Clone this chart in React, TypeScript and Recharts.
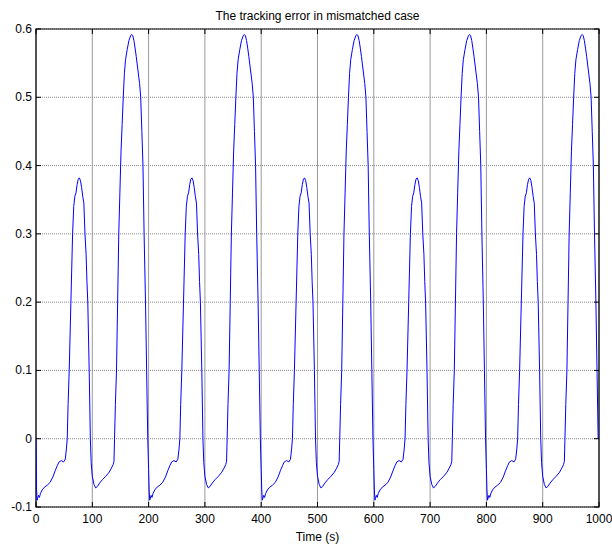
import React from 'react';
import { LineChart, Line, XAxis, YAxis, CartesianGrid, ReferenceArea } from 'recharts';

const FONT = '"Liberation Sans", Arial, Helvetica, sans-serif';
const TITLE = 'The tracking error in mismatched case';
const X_LABEL = 'Time (s)';

const xTicks = [0, 100, 200, 300, 400, 500, 600, 700, 800, 900, 1000];
const yTicks = [-0.1, 0, 0.1, 0.2, 0.3, 0.4, 0.5, 0.6];
const xDomain = [0, 1000];
const yDomain = [-0.1, 0.6];

// The signal repeats with a 200 s period; one period.
const periodStarts = [0, 200, 400, 600, 800];
const periodOffsets = [
  0, 1, 2, 3, 4.5, 6, 8, 11, 15, 20, 25, 30, 34, 38, 41, 45, 49, 52, 54, 55.5,
  57, 59, 62, 65, 67, 69, 71, 73, 75, 77, 79, 81, 83, 85, 87, 89, 90.5, 92, 94.5, 96.5,
  98, 100, 103, 106, 109, 113, 118, 124, 130, 134, 137, 138.5, 139.5, 141, 143, 145, 147, 149, 151, 153,
  155, 157, 159, 162, 165, 168, 170, 172, 174, 176, 178, 181, 184, 186, 188, 190, 192, 194.5, 196.5, 198.5,
];
const periodValues = [
  -0.045, -0.075, -0.09, -0.087, -0.083, -0.086, -0.08, -0.075, -0.071, -0.068, -0.064, -0.056, -0.047, -0.039, -0.034, -0.032, -0.034, -0.03, -0.015, 0.0,
  0.05, 0.1, 0.2, 0.3, 0.34, 0.355, 0.36, 0.372, 0.38, 0.382, 0.378, 0.368, 0.355, 0.345, 0.3, 0.27, 0.23, 0.2, 0.1, 0.0,
  -0.035, -0.055, -0.067, -0.072, -0.07, -0.065, -0.06, -0.055, -0.049, -0.043, -0.038, -0.033, 0.0, 0.05, 0.1, 0.2, 0.3, 0.36, 0.42, 0.46,
  0.5, 0.535, 0.555, 0.57, 0.583, 0.59, 0.592, 0.59, 0.583, 0.572, 0.56, 0.54, 0.52, 0.5, 0.45, 0.4, 0.3, 0.2, 0.1, 0.0,
];
const initialValue = 0.0;

const data = periodStarts.flatMap((start, k) =>
  periodOffsets.map((o, i) => ({
    t: start + o,
    e: k === 0 && i === 0 ? initialValue : periodValues[i],
  }))
);

// layout
const W = 612;
const H = 548;
const M = { top: 29, right: 13, bottom: 0, left: 0 };
const Y_AXIS_W = 36;
const X_AXIS_H = 41;
const PLOT_W = W - M.left - M.right - Y_AXIS_W;
const PLOT_H = H - M.top - M.bottom - X_AXIS_H;
const TICK = 5;

const BottomTick = (props: any) => {
  const { x, y, payload } = props;
  return (
    <g>
      <line x1={x} y1={y} x2={x} y2={y - TICK} stroke="#000" strokeWidth={1} />
      <line x1={x} y1={y - PLOT_H} x2={x} y2={y - PLOT_H + TICK} stroke="#000" strokeWidth={1} />
      <text x={x} y={y + 16} textAnchor="middle" fontSize={12} fontFamily={FONT} fill="#000">
        {String(payload.value)}
      </text>
    </g>
  );
};

const LeftTick = (props: any) => {
  const { x, y, payload } = props;
  return (
    <g>
      <line x1={x} y1={y} x2={x + TICK} y2={y} stroke="#000" strokeWidth={1} />
      <line x1={x + PLOT_W} y1={y} x2={x + PLOT_W - TICK} y2={y} stroke="#000" strokeWidth={1} />
      <text x={x - 4} y={y + 4} textAnchor="end" fontSize={12} fontFamily={FONT} fill="#000">
        {String(payload.value)}
      </text>
    </g>
  );
};

export default function App() {
  return (
    <div style={{ position: 'absolute', left: 0, top: 0, width: W, height: H, background: '#fff' }}>
      <LineChart width={W} height={H} data={data} margin={M}>
        <CartesianGrid vertical horizontal={false} stroke="#9a9a9a" />
        <CartesianGrid vertical={false} horizontal stroke="#8a8a8a" strokeDasharray="1 1" />
        <XAxis
          dataKey="t"
          type="number"
          domain={xDomain}
          ticks={xTicks}
          interval={0}
          height={X_AXIS_H}
          tickSize={0}
          tickMargin={0}
          tickLine={false}
          axisLine={false}
          tick={<BottomTick />}
          allowDataOverflow
          label={{ value: X_LABEL, position: 'insideBottom', offset: 7, fontSize: 12, fill: '#000', fontFamily: FONT }}
        />
        <YAxis
          type="number"
          domain={yDomain}
          ticks={yTicks}
          interval={0}
          width={Y_AXIS_W}
          tickSize={0}
          tickMargin={0}
          tickLine={false}
          axisLine={false}
          tick={<LeftTick />}
          allowDataOverflow
        />
        <Line
          dataKey="e"
          type="linear"
          stroke="#0000ff"
          strokeWidth={1}
          dot={false}
          activeDot={false}
          isAnimationActive={false}
        />
        <ReferenceArea
          x1={xDomain[0]}
          x2={xDomain[1]}
          y1={yDomain[0]}
          y2={yDomain[1]}
          fill="none"
          fillOpacity={0}
          stroke="#000"
          strokeWidth={1.2}
          ifOverflow="visible"
          label={{ value: TITLE, position: 'top', offset: 9, fontSize: 12, fill: '#000', fontFamily: FONT }}
        />
      </LineChart>
    </div>
  );
}
